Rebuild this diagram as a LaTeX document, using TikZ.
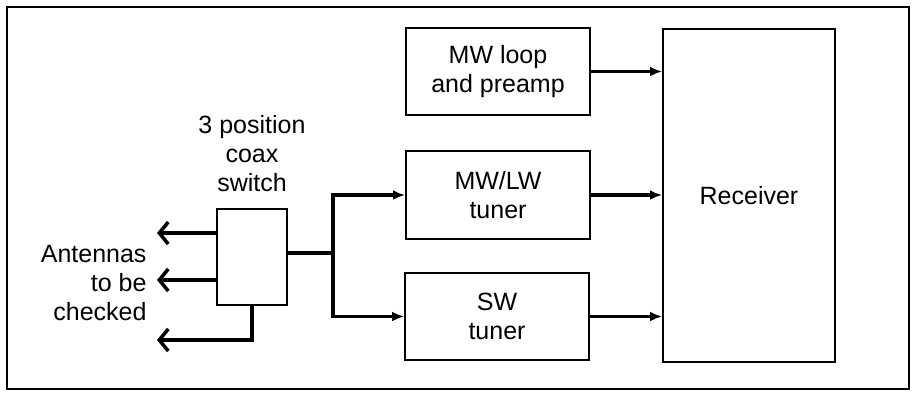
\documentclass[tikz,border=0pt]{standalone}
\usepackage{fontspec}
\setmainfont{Liberation Sans}
\usetikzlibrary{arrows.meta,positioning,calc}

\begin{document}
\begin{tikzpicture}[x=1pt,y=-1pt,>={Latex[length=12pt,width=10pt]},font=\fontsize{25}{29}\selectfont]
  \tikzstyle{box}=[draw,line width=2pt,inner sep=0pt,align=center]
  \tikzstyle{sig}=[->,line width=3.5pt]
  \tikzstyle{ant}=[-{Straight Barb[length=9pt,width=22pt]},line width=3.5pt]
  \useasboundingbox (0,0) rectangle (918,392);
  \draw[line width=2pt] (7,7) rectangle (909,389);
  \node[box,minimum width=184pt,minimum height=87pt] (loop) at (498,71.5) {MW loop\\and preamp};
  \node[box,minimum width=184pt,minimum height=88pt] (mwlw) at (498,195) {MW/LW\\tuner};
  \node[box,minimum width=184pt,minimum height=87pt] (sw) at (497,316.5) {SW\\tuner};
  \node[box,minimum width=172pt,minimum height=333pt] (rx) at (749,195.5) {Receiver};
  \node[box,minimum width=70pt,minimum height=96pt] (switch) at (252,257) {};
  \node[align=center] (swlabel) at (252,154) {3 position\\coax\\switch};
  \node[align=right,anchor=east] (antlabel) at (150,283) {Antennas\\to be\\checked};
  \coordinate (jn) at (333,253);
  \coordinate (ant1) at (157,233);
  \coordinate (ant2) at (157,280);
  \coordinate (ant3) at (157,340);
  % outputs into the receiver
  \draw[sig] (loop.east) -- (loop.east -| rx.west);
  \draw[sig] (mwlw.east) -- (mwlw.east -| rx.west);
  \draw[sig] (sw.east) -- (sw.east -| rx.west);
  % switch to the tuners
  \draw[line width=3.5pt] (switch.east |- jn) -- (jn);
  \draw[sig] (jn) |- (mwlw.west);
  \draw[sig] (jn) |- (sw.west);
  % antennas
  \draw[ant] (switch.west |- ant1) -- (ant1);
  \draw[ant] (switch.west |- ant2) -- (ant2);
  \draw[ant] (switch.south) |- (ant3);
\end{tikzpicture}
\end{document}
